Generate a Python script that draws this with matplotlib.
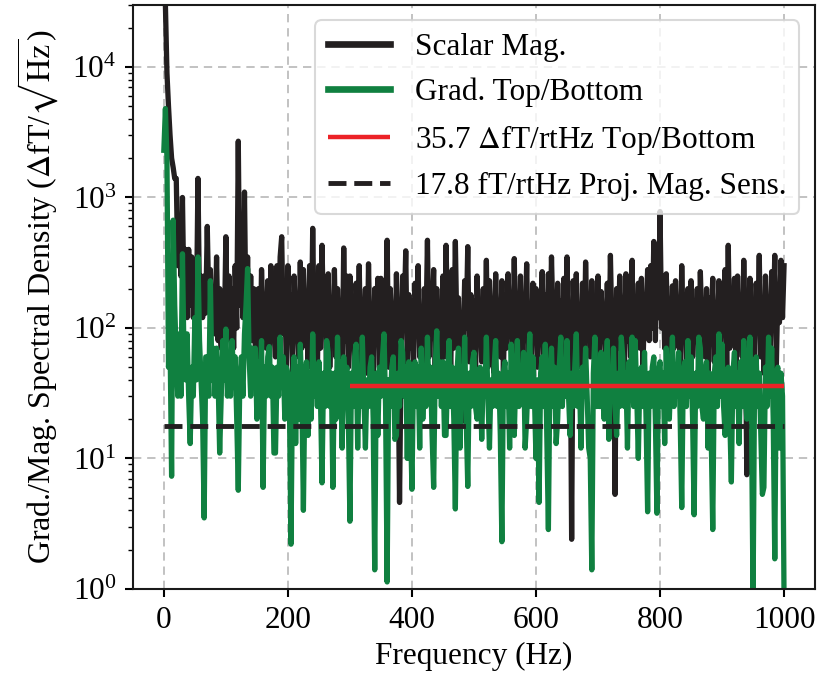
import matplotlib
matplotlib.use("Agg")
import matplotlib.pyplot as plt
import numpy as np

plt.rcParams['font.family'] = ['Liberation Serif', 'DejaVu Serif']
plt.rcParams['mathtext.fontset'] = 'stix'
plt.rcParams['font.size'] = 22.5

# frequency axis, 2.5 Hz bins
freq = np.arange(0, 1000.1, 2.5)

# scalar magnetometer spectrum, one row per 50 Hz
scalar_mag = [
    300000, 30000, 9000, 5000, 3000, 2000, 1700, 1400, 1400, 300, 600, 250, 1000, 150, 400, 120, 400, 150, 350, 120,
    300, 120, 1400, 150, 250, 120, 250, 130, 600, 150, 280, 90, 200, 90, 350, 80, 200, 70, 180, 90,
    500, 90, 250, 80, 200, 70, 300, 100, 2700, 150, 300, 120, 1100, 100, 350, 90, 250, 80, 200, 70,
    80, 200, 50, 280, 110, 150, 70, 230, 45, 300, 90, 130, 60, 300, 70, 350, 500, 90, 200, 50,
    300, 80, 180, 45, 250, 100, 140, 60, 320, 70, 280, 110, 160, 50, 300, 60, 580, 90, 250, 45,
    300, 70, 430, 110, 170, 45, 260, 50, 140, 80, 280, 60, 200, 90, 130, 40, 410, 80, 250, 50,
    250, 90, 140, 40, 220, 70, 300, 55, 160, 100, 200, 45, 310, 70, 150, 40, 200, 110, 240, 50,
    240, 70, 160, 90, 470, 50, 200, 100, 130, 45, 260, 70, 4.6, 60, 250, 120, 390, 50, 180, 70,
    160, 45, 220, 100, 300, 60, 140, 40, 200, 90, 470, 60, 170, 120, 280, 45, 200, 80, 130, 50,
    250, 60, 430, 110, 150, 45, 280, 70, 460, 90, 170, 40, 19, 70, 230, 100, 420, 55, 180, 80,
    160, 40, 250, 90, 140, 55, 200, 70, 330, 50, 230, 110, 150, 45, 260, 80, 130, 60, 230, 45,
    180, 70, 260, 100, 150, 50, 340, 60, 140, 90, 250, 40, 180, 100, 310, 60, 130, 45, 220, 80,
    200, 50, 150, 100, 270, 45, 180, 80, 260, 60, 350, 110, 140, 50, 220, 90, 160, 40, 240, 70,
    350, 80, 150, 2.4, 230, 100, 260, 50, 140, 70, 220, 45, 320, 100, 160, 60, 230, 90, 130, 45,
    250, 50, 190, 110, 140, 60, 220, 45, 360, 90, 140, 5.3, 200, 70, 250, 100, 150, 45, 260, 80,
    200, 60, 330, 45, 150, 100, 220, 70, 240, 50, 160, 110, 280, 80, 300, 100, 460, 80, 350, 120,
    780, 100, 250, 70, 260, 110, 150, 45, 210, 70, 230, 100, 140, 50, 300, 90, 180, 45, 200, 60,
    230, 60, 150, 90, 200, 45, 270, 100, 130, 60, 200, 40, 170, 100, 240, 55, 140, 80, 230, 60,
    200, 100, 280, 50, 430, 70, 160, 100, 240, 45, 250, 80, 140, 60, 330, 90, 7.5, 60, 240, 110,
    150, 50, 220, 100, 360, 60, 170, 45, 250, 90, 140, 60, 270, 100, 360, 50, 200, 110, 330, 120,
    300,
]

# top/bottom gradiometer spectrum, one row per 50 Hz
grad_tb = [
    2300, 4800, 2000, 50, 80, 7.3, 670, 150, 60, 30, 90, 30, 370, 60, 40, 90, 30, 13, 50, 30,
    120, 40, 350, 80, 40, 20, 3.5, 60, 60, 30, 230, 40, 70, 30, 70, 40, 11, 30, 80, 40,
    98, 30, 60, 30, 80, 40, 60, 20, 5.7, 40, 60, 30, 90, 150, 285, 60, 30, 70, 40, 70,
    20, 55, 30, 80, 6, 50, 30, 60, 72, 30, 50, 11, 11, 50, 30, 85, 40, 60, 20, 50,
    45, 25, 2.2, 40, 60, 13, 50, 20, 75, 30, 4, 40, 55, 15, 45, 20, 90, 30, 50, 25,
    55, 30, 6.5, 45, 25, 80, 65, 25, 45, 6, 45, 20, 85, 30, 55, 12, 60, 35, 50, 20,
    3.3, 45, 25, 60, 75, 12, 50, 25, 85, 30, 12, 40, 25, 50, 60, 20, 1.4, 45, 15, 50,
    30, 60, 90, 25, 1.13, 40, 25, 50, 60, 14, 15, 45, 25, 80, 65, 30, 50, 10, 55, 20,
    5.8, 45, 55, 25, 50, 12, 70, 20, 45, 25, 85, 30, 50, 15, 6, 50, 95, 30, 55, 25,
    55, 15, 15, 45, 80, 25, 50, 20, 4.1, 45, 70, 12, 50, 25, 85, 20, 6.1, 45, 25, 55,
    65, 25, 20, 45, 50, 14, 45, 30, 85, 30, 12, 40, 25, 50, 80, 25, 45, 15, 2.3, 45,
    55, 25, 45, 12, 75, 30, 15, 45, 80, 25, 45, 30, 65, 12, 20, 45, 90, 25, 60, 30,
    10, 40, 4.6, 45, 60, 25, 75, 15, 2.85, 45, 70, 25, 50, 13, 20, 50, 85, 25, 50, 30,
    80, 30, 15, 45, 25, 50, 90, 25, 45, 12, 50, 30, 70, 30, 12, 10, 1.4, 45, 85, 25,
    45, 25, 65, 30, 20, 45, 80, 14, 45, 30, 70, 25, 15, 45, 25, 85, 60, 25, 45, 12,
    55, 30, 85, 25, 80, 30, 10, 45, 50, 25, 65, 20, 3.9, 45, 25, 50, 60, 20, 3.8, 45,
    55, 25, 45, 13, 70, 25, 20, 45, 85, 25, 45, 30, 65, 20, 4.2, 45, 55, 25, 80, 30,
    60, 20, 3.7, 45, 25, 85, 70, 25, 20, 45, 55, 12, 45, 15, 2.85, 45, 60, 25, 90, 30,
    75, 25, 15, 45, 50, 20, 6.6, 45, 65, 25, 45, 13, 55, 25, 80, 30, 20, 45, 85, 20,
    0.8, 45, 60, 25, 45, 15, 5.3, 6, 50, 25, 85, 30, 70, 20, 1.7, 45, 50, 12, 45, 30,
    0.8,
]

grad_level = 35.7     # dfT/rtHz, fitted from 300 Hz up
grad_band = [300, 1000]
mag_sens = 17.8       # fT/rtHz
mag_band = [0, 1000]

black = '#231f20'
green = '#108040'
red = '#ec2227'

fig = plt.figure(figsize=(8.2, 6.8), dpi=100)
ax = fig.add_axes([0.162, 0.134, 0.832, 0.859])

ax.plot(freq, scalar_mag, color=black, lw=3.8, label='Scalar Mag.')
ax.plot(freq, grad_tb, color=green, lw=3.8, label='Grad. Top/Bottom')
ax.hlines(grad_level, grad_band[0], grad_band[1], color=red, lw=3.2,
          label=r'35.7 $\Delta$fT/rtHz Top/Bottom', zorder=3)
ax.hlines(mag_sens, mag_band[0], mag_band[1], color=black, lw=3.5,
          linestyles=(0, (3.7, 1.6)), label='17.8 fT/rtHz Proj. Mag. Sens.',
          zorder=3)

ax.set_yscale('log')
ax.set_ylim(1, 3e4)
ax.set_xlim(-50, 1050)
ax.set_xticks([0, 200, 400, 600, 800, 1000])

ax.set_axisbelow(True)
ax.grid(True, which='major', color='#b8b8b8', ls=(0, (5, 3.5)), lw=1.2)
for s in ax.spines.values():
    s.set_linewidth(1.5)
    s.set_color('#1a1a1a')
ax.tick_params(which='major', direction='out', length=6, width=1.5,
               top=False, right=False, pad=6)
ax.tick_params(which='minor', direction='out', length=3.5, width=1.0,
               top=False, right=False)
ax.tick_params(axis='x', which='minor', bottom=False)

ax.set_xlabel('Frequency (Hz)', labelpad=5)
ax.set_ylabel(r'Grad./Mag. Spectral Density ($\Delta$fT/$\sqrt{\rm Hz}$)',
              fontsize=23, labelpad=8)

leg = ax.legend(loc='upper right', framealpha=0.8, fancybox=True,
                edgecolor='#d0d0d0', handlelength=2.0, borderaxespad=0.5)
leg.get_frame().set_linewidth(1.5)
for h in leg.legend_handles[:2]:
    h.set_linewidth(4.8)

fig.savefig('out.png', dpi=100)
